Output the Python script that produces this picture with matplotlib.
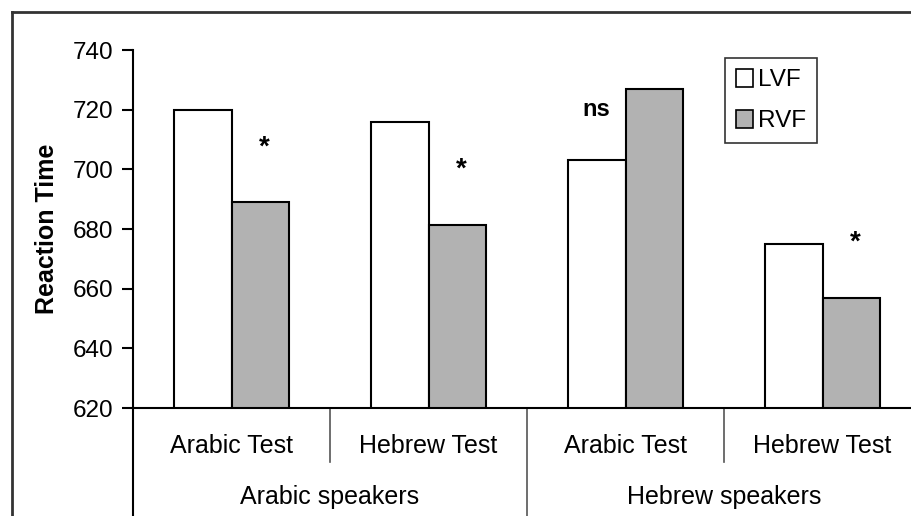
import matplotlib
matplotlib.use('Agg')
import matplotlib.pyplot as plt
from matplotlib.patches import Patch
from matplotlib.lines import Line2D

plt.rcParams['font.family'] = ['Liberation Sans', 'DejaVu Sans']

tests = ['Arabic Test', 'Hebrew Test', 'Arabic Test', 'Hebrew Test']
groups = ['Arabic speakers', 'Hebrew speakers']
lvf = [720, 716, 703, 675]
rvf = [689, 681.5, 727, 657]
marks = ['*', '*', 'ns', '*']
# which bar the significance mark sits over (0 = LVF, 1 = RVF)
mark_over = [1, 1, 0, 1]

fig = plt.figure(figsize=(9.11, 5.16), dpi=100)
ax = fig.add_axes([0.146, 0.2093, 0.865, 0.6938])

w = 0.294
x = list(range(len(tests)))
ax.bar([i - w / 2 for i in x], lvf, width=w, color='white', edgecolor='black', linewidth=1.5, label='LVF')
ax.bar([i + w / 2 for i in x], rvf, width=w, color='#b2b2b2', edgecolor='black', linewidth=1.5, label='RVF')

ax.set_xlim(-0.5, 3.5)
ax.set_ylim(620, 740)
ax.set_yticks(range(620, 741, 20))
ax.tick_params(axis='y', labelsize=17.5, length=8, width=1.5, direction='out', pad=6)
ax.set_xticks([])
ax.set_ylabel('Reaction Time', fontsize=18, fontweight='bold', labelpad=10)

for s in ['top', 'right']:
    ax.spines[s].set_visible(False)
ax.spines['left'].set_linewidth(1.5)
ax.spines['bottom'].set_linewidth(1.5)

# significance marks
for i in x:
    if mark_over[i] == 1:
        xm = i + w / 2
        top = rvf[i]
    else:
        xm = i - w / 2
        top = lvf[i]
    if marks[i] == '*':
        ax.text(xm + 0.02, top + 16, '*', fontsize=20, fontweight='bold', ha='center', va='baseline')
    else:
        ax.text(xm, top + 15, marks[i], fontsize=17, fontweight='bold', ha='center', va='baseline')

# two-level category axis
xt = ax.get_xaxis_transform()
for i in x:
    ax.text(i, -0.107, tests[i], fontsize=18, ha='center', va='center', transform=xt)
for g in range(len(groups)):
    ax.text(2 * g + 0.5, -0.249, groups[g], fontsize=18, ha='center', va='center', transform=xt)
for b in [0.5, 2.5]:
    ax.plot([b, b], [0, -0.15], color='#555555', lw=1.2, transform=xt, clip_on=False)
ax.plot([1.5, 1.5], [0, -0.31], color='#555555', lw=1.2, transform=xt, clip_on=False)
ax.plot([-0.5, -0.5], [0, -0.31], color='black', lw=1.5, transform=xt, clip_on=False)

handles = [Patch(facecolor='white', edgecolor='black', linewidth=1.2),
           Patch(facecolor='#b2b2b2', edgecolor='black', linewidth=1.2)]
leg = ax.legend(handles, ['LVF', 'RVF'], loc='upper left', bbox_to_anchor=(0.796, 0.888),
                bbox_transform=fig.transFigure, fontsize=17.5, frameon=True, fancybox=False,
                handlelength=0.7, handleheight=0.8, handletextpad=0.2, labelspacing=0.75,
                borderpad=0.45, borderaxespad=0)
leg.get_frame().set_edgecolor('black')
leg.get_frame().set_linewidth(1.2)

# outer frame
fig.add_artist(Line2D([12 / 911, 12 / 911], [0, 1 - 12 / 516], color='#333333', lw=2, transform=fig.transFigure))
fig.add_artist(Line2D([12 / 911, 1], [1 - 12 / 516, 1 - 12 / 516], color='#333333', lw=2, transform=fig.transFigure))

plt.savefig('out.png', dpi=100)
plt.close()
